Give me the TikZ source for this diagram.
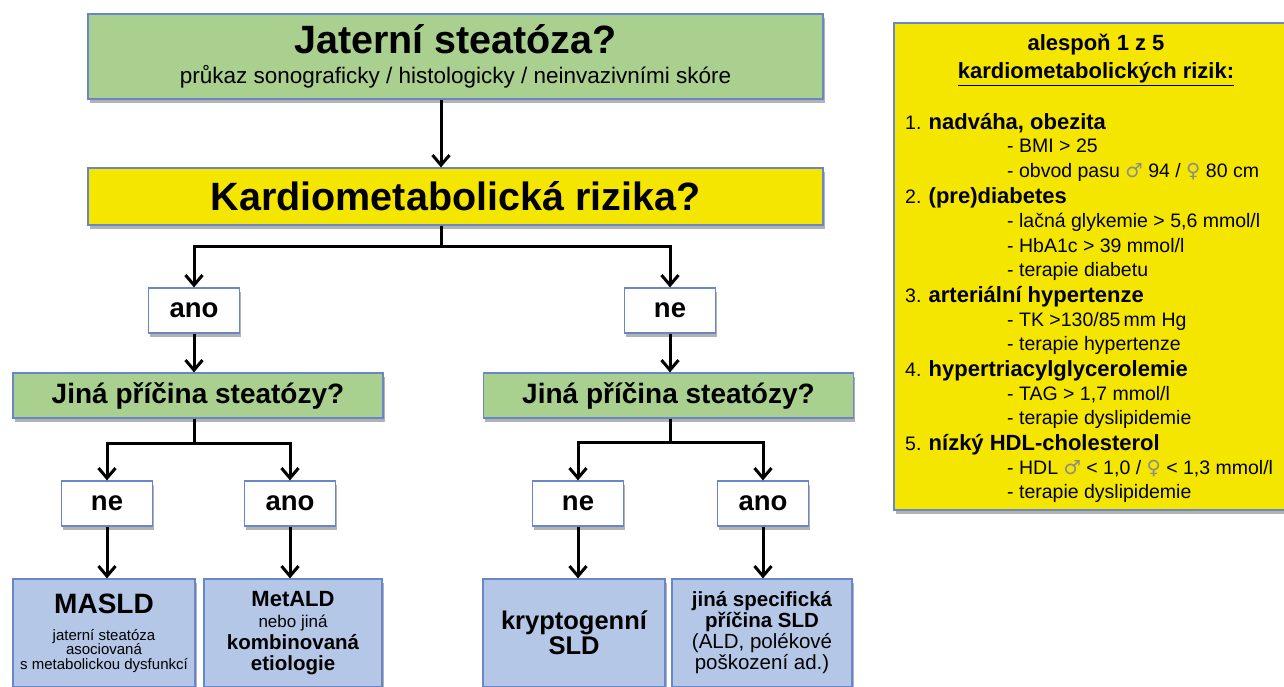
\documentclass[tikz,border=0pt]{standalone}
\usepackage{fontspec}
\setmainfont{Liberation Sans}
\newfontfamily\symfont{DejaVu Sans}
\usetikzlibrary{arrows.meta,shadows}
\definecolor{boxgreen}{RGB}{169,208,142}
\definecolor{boxyellow}{RGB}{245,230,0}
\definecolor{boxblue}{RGB}{180,199,231}
\definecolor{edgeblue}{RGB}{105,135,200}
\newcommand{\symmale}{{\symfont\color{black!45}♂}}
\newcommand{\symfemale}{{\symfont\color{black!45}♀}}

\begin{document}
\begin{tikzpicture}[x=1pt,y=-1pt]
\tikzstyle{box}=[rectangle, draw=edgeblue, line width=1.2pt, inner sep=0pt, align=center,
    drop shadow={shadow xshift=1.5pt, shadow yshift=-4pt, opacity=0.5, fill=black!60}]
\tikzstyle{arr}=[line width=3pt, -{Straight Barb[length=10pt,width=17pt]}]
\tikzstyle{yesno}=[box, fill=white, minimum width=91pt, minimum height=45pt,
    font=\fontsize{27.5}{30}\selectfont\bfseries]
\tikzstyle{cause}=[box, fill=boxgreen, minimum width=370pt, minimum height=45pt,
    font=\fontsize{28}{32}\selectfont\bfseries]
\tikzstyle{result}=[box, fill=boxblue, minimum height=108pt]
\tikzstyle{item}=[anchor=base west, inner sep=0pt, font=\fontsize{19.5}{22}\selectfont]
\tikzstyle{risk}=[item, font=\fontsize{19.5}{22}\selectfont]

\useasboundingbox (0,0) rectangle (1284,687);

% main question
\node[box, fill=boxgreen, minimum width=735pt, minimum height=85pt,
    font=\fontsize{22.5}{30}\selectfont] (steat) at (455.5,56.5)
    {{\fontsize{39.5}{40}\selectfont\bfseries Jaterní steatóza?}\\
     průkaz sonograficky / histologicky / neinvazivními skóre};
\node[box, fill=boxyellow, minimum width=735pt, minimum height=57pt,
    font=\fontsize{39.5}{44}\selectfont\bfseries] (kardio) at (455.5,196.5) {Kardiometabolická rizika?};

% first answer
\node[yesno] (ano1) at (194,310.5) {ano};
\node[yesno] (ne1) at (670,310.5) {ne};

\node[cause] (jina1) at (198,395.5) {Jiná příčina steatózy?};
\node[cause] (jina2) at (668.5,395.5) {Jiná příčina steatózy?};

% second answer
\node[yesno] (ne2) at (107,503.5) {ne};
\node[yesno] (ano2) at (290,503.5) {ano};
\node[yesno] (ne3) at (578,503.5) {ne};
\node[yesno] (ano3) at (763,503.5) {ano};

% results
\node[result, minimum width=182pt, font=\fontsize{15}{14.5}\selectfont] (masld) at (104,633)
    {{\fontsize{28}{30}\selectfont\bfseries MASLD}\\[12.5pt]
     jaterní steatóza\\asociovaná\\s metabolickou dysfunkcí};
\node[result, minimum width=178pt, font=\fontsize{20.5}{21.5}\selectfont\bfseries] (metald) at (293,633)
    {{\fontsize{22}{22}\selectfont MetALD}\\
     {\fontsize{17}{21}\selectfont\mdseries nebo jiná}\\
     kombinovaná\\etiologie};
\node[result, minimum width=182pt, font=\fontsize{25.5}{25}\selectfont\bfseries] (krypt) at (574,633)
    {kryptogenní\\SLD};
\node[result, minimum width=180pt, font=\fontsize{20.5}{21}\selectfont] (jinasld) at (762,633)
    {\bfseries jiná specifická\\\bfseries příčina SLD\\
     (ALD, polékové\\poškození ad.)};

\draw[arr] ([xshift=-14.5pt]steat.south) -- ([xshift=-14.5pt]kardio.north);
\draw[arr] ([xshift=-14.5pt]kardio.south) -- ++(0,21) -| (ano1.north);
\draw[arr] ([xshift=-14.5pt]kardio.south) -- ++(0,21) -| (ne1.north);
\draw[arr] (ano1.south) -- (ano1.south |- jina1.north);
\draw[arr] (ne1.south) -- (ne1.south |- jina2.north);
\draw[arr] (jina1.south -| ano1.south) -- ++(0,25) -| (ne2.north);
\draw[arr] (jina1.south -| ano1.south) -- ++(0,25) -| (ano2.north);
\draw[arr] (jina2.south -| ne1.south) -- ++(0,24) -| (ne3.north);
\draw[arr] (jina2.south -| ne1.south) -- ++(0,24) -| (ano3.north);
\draw[arr] (ne2.south) -- (ne2.south |- masld.north);
\draw[arr] (ano2.south) -- (ano2.south |- metald.north);
\draw[arr] (ne3.south) -- (ne3.south |- krypt.north);
\draw[arr] (ano3.south) -- (ano3.south |- jinasld.north);

% risk panel
\node[box, fill=boxyellow, minimum width=396pt, minimum height=487pt] (panel) at (1092,266.5) {};
\node[anchor=base, inner sep=0pt, font=\fontsize{22}{24}\selectfont\bfseries] (head1) at (1096,51) {alespoň 1 z 5};
\node[anchor=base, inner sep=0pt, font=\fontsize{22}{24}\selectfont\bfseries] (head2) at (1096,79) {\underline{kardiometabolických rizik:}};

\node[risk] (r1) at (905,129.5) {1. {\bfseries\fontsize{22}{24}\selectfont nadváha, obezita}};
\node[item] (r1a) at (1007,153) {- BMI > 25};
\node[item] (r1b) at (1007,178) {- obvod pasu \symmale{} 94 / \symfemale{} 80 cm};
\node[risk] (r2) at (905,203.5) {2. {\bfseries\fontsize{22}{24}\selectfont (pre)diabetes}};
\node[item] (r2a) at (1007,227) {- lačná glykemie > 5,6 mmol/l};
\node[item] (r2b) at (1007,252) {- HbA1c > 39 mmol/l};
\node[item] (r2c) at (1007,276.5) {- terapie diabetu};
\node[risk] (r3) at (905,302) {3. {\bfseries\fontsize{22}{24}\selectfont arteriální hypertenze}};
\node[item] (r3a) at (1007,326) {- TK >130/85\,mm Hg};
\node[item] (r3b) at (1007,350.5) {- terapie hypertenze};
\node[risk] (r4) at (905,376) {4. {\bfseries\fontsize{22}{24}\selectfont hypertriacylglycerolemie}};
\node[item] (r4a) at (1007,400) {- TAG > 1,7 mmol/l};
\node[item] (r4b) at (1007,424.5) {- terapie dyslipidemie};
\node[risk] (r5) at (905,450) {5. {\bfseries\fontsize{22}{24}\selectfont nízký HDL-cholesterol}};
\node[item] (r5a) at (1007,474) {- HDL \symmale{} < 1,0 / \symfemale{} < 1,3 mmol/l};
\node[item] (r5b) at (1007,498.5) {- terapie dyslipidemie};
\end{tikzpicture}
\end{document}
